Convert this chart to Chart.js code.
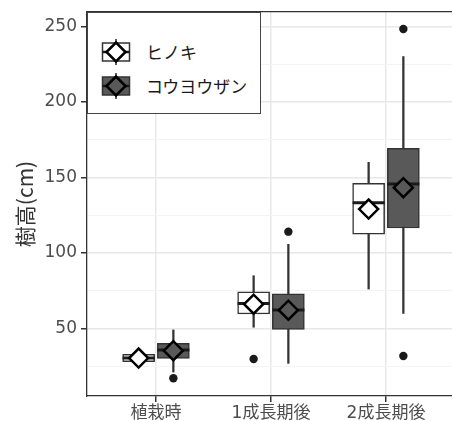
<!DOCTYPE html>
<html lang="ja">
<head>
<meta charset="UTF-8" />
<title>樹高の推移</title>
<script src="https://cdn.jsdelivr.net/npm/chart.js"></script>
<style>
  body { margin: 0; background: #fff; }
  #wrap { position: relative; width: 452px; height: 421px; }
  #legend {
    position: absolute; left: 87px; top: 12px; width: 174px; height: 102px;
    border: 1px solid #444; background: #fff; box-sizing: border-box;
    font-family: "Noto Sans CJK JP", sans-serif; font-size: 17px; color: #1a1a1a;
  }
  #legend canvas { position: absolute; left: 7px; }
  #legend span { position: absolute; left: 58px; line-height: 20px; white-space: nowrap; }
</style>
</head>
<body>
<div id="wrap">
  <canvas id="heightChart"></canvas>
  <div id="legend"></div>
</div>

<script>
  // categories (x) and species
  const categories = ['植栽時', '1成長期後', '2成長期後'];
  const species = ['ヒノキ', 'コウヨウザン'];

  // ヒノキ box stats (cm)
  const hinokiLow = [26.5, 50.7, 76.0];
  const hinokiQ1 = [27.9, 59.5, 112.3];
  const hinokiMedian = [30.3, 66.5, 133.2];
  const hinokiQ3 = [32.8, 74.2, 146.0];
  const hinokiHigh = [34.0, 84.8, 159.9];
  const hinokiMean = [30.3, 66.0, 129.0];
  const hinokiOutliers = [[], [29.7], []];

  // コウヨウザン box stats (cm)
  const kouyouLow = [21.0, 26.8, 59.9];
  const kouyouQ1 = [30.1, 49.3, 116.4];
  const kouyouMedian = [35.6, 62.1, 145.6];
  const kouyouQ3 = [40.1, 72.9, 169.2];
  const kouyouHigh = [48.9, 105.6, 229.9];
  const kouyouMean = [35.2, 62.0, 143.1];
  const kouyouOutliers = [[16.9], [114.0], [248.2, 31.7]];

  const yTicks = [50, 100, 150, 200, 250];

  const FONT = '"DejaVu Sans", "Noto Sans CJK JP", sans-serif';
  const DARK = '#595959';
  const dodge = 0.151;   // half distance between the two boxes (x units)

  function boxData(lo, hi, off) {
    return lo.map((v, i) => ({ x: i + 1 + off, y: [v, hi[i]] }));
  }
  function pointData(vals, off) {
    return vals.map((v, i) => ({ x: i + 1 + off, y: v }));
  }
  function outlierData(list, off) {
    const out = [];
    list.forEach((arr, i) => arr.forEach(v => out.push({ x: i + 1 + off, y: v })));
    return out;
  }

  const groups = [
    { low: hinokiLow, q1: hinokiQ1, med: hinokiMedian, q3: hinokiQ3, high: hinokiHigh,
      mean: hinokiMean, outl: hinokiOutliers, fill: '#ffffff', off: -dodge },
    { low: kouyouLow, q1: kouyouQ1, med: kouyouMedian, q3: kouyouQ3, high: kouyouHigh,
      mean: kouyouMean, outl: kouyouOutliers, fill: DARK, off: dodge }
  ];

  const datasets = [];
  groups.forEach((g, k) => {
    // whisker
    datasets.push({
      type: 'bar', label: species[k] + ' whisker', data: boxData(g.low, g.high, g.off),
      backgroundColor: '#333', barThickness: 1.6, grouped: false, order: 10
    });
    // box
    datasets.push({
      type: 'bar', label: species[k], data: boxData(g.q1, g.q3, g.off),
      backgroundColor: g.fill, borderColor: '#333', borderWidth: 1.5, borderSkipped: false,
      barThickness: 32, grouped: false, order: 8
    });
    // median
    datasets.push({
      type: 'scatter', label: species[k] + ' median', data: pointData(g.med, g.off),
      pointStyle: 'line', pointRadius: 16, borderWidth: 3, borderColor: '#1a1a1a', order: 6
    });
    // outliers
    datasets.push({
      type: 'scatter', label: species[k] + ' outlier', data: outlierData(g.outl, g.off),
      pointStyle: 'circle', pointRadius: 4.2, backgroundColor: '#1a1a1a', borderWidth: 0, order: 4
    });
    // mean
    datasets.push({
      type: 'scatter', label: species[k] + ' mean', data: pointData(g.mean, g.off),
      pointStyle: 'rectRot', pointRadius: 9.5, backgroundColor: g.fill,
      borderColor: '#000', borderWidth: 2.5, order: 2
    });
  });

  const isMajor = v => v % 50 === 0;
  const noPad = s => { s.paddingLeft = 0; s.paddingRight = 0; s.paddingTop = 0; s.paddingBottom = 0; };

  new Chart(document.getElementById('heightChart'), {
    type: 'bar',
    data: { datasets },
    options: {
      responsive: true,
      maintainAspectRatio: false,
      devicePixelRatio: 1,
      animation: false,
      layout: { autoPadding: false, padding: { top: 12, left: 0, right: 0, bottom: 0 } },
      plugins: { legend: { display: false }, tooltip: { enabled: false } },
      scales: {
        x: {
          type: 'linear', min: 0.4, max: 3.574, offset: false,
          afterBuildTicks: s => { s.ticks = categories.map((c, i) => ({ value: i + 1 })); },
          afterFit: s => { s.height = 25; noPad(s); },
          ticks: {
            callback: v => categories[v - 1], autoSkip: false, maxRotation: 0,
            font: { family: FONT, size: 17 }, color: '#4d4d4d', padding: 1
          },
          grid: { offset: false, color: '#e8e8e8', lineWidth: 1.5, tickLength: 6, tickColor: '#333' },
          border: { color: '#333', width: 1.3 }
        },
        x2: {
          type: 'linear', position: 'top', min: 0.4, max: 3.574,
          ticks: { display: false }, grid: { display: false },
          afterFit: s => { s.height = 0; noPad(s); },
          border: { color: '#333', width: 1.3 }
        },
        y: {
          min: 5.17, max: 259.47,
          afterBuildTicks: s => {
            const t = [];
            for (let v = 25; v <= 250; v += 25) t.push({ value: v });
            s.ticks = t;
          },
          afterFit: s => { s.width = 87; noPad(s); },
          ticks: {
            callback: v => (yTicks.includes(v) ? v : ''),
            font: { family: FONT, size: 17 }, color: '#4d4d4d', padding: 4
          },
          grid: {
            color: c => (isMajor(c.tick.value) ? '#e8e8e8' : '#f4f4f4'),
            lineWidth: c => (isMajor(c.tick.value) ? 1.5 : 1),
            tickLength: 6,
            tickColor: c => (isMajor(c.tick.value) ? '#333' : 'rgba(0,0,0,0)')
          },
          border: { color: '#333', width: 1.3 },
          title: {
            display: true, text: '樹高(cm)', color: '#333',
            font: { family: '"Noto Sans CJK JP", sans-serif', size: 21 }, padding: { top: 12, bottom: 0 }
          }
        }
      }
    }
  });

  // ggplot-style legend inside the panel
  const legend = document.getElementById('legend');
  const keyCentres = [38.7, 73.3];
  groups.forEach((g, k) => {
    const cv = document.createElement('canvas');
    cv.width = 42; cv.height = 32;
    cv.style.top = (keyCentres[k] - 16) + 'px';
    const c = cv.getContext('2d');
    const cx = 21, cy = 16;
    c.strokeStyle = '#333'; c.lineWidth = 1.6;
    c.beginPath(); c.moveTo(cx, cy - 13); c.lineTo(cx, cy + 13); c.stroke();
    c.fillStyle = g.fill; c.fillRect(cx - 13.5, cy - 9, 27, 18);
    c.lineWidth = 1.5; c.strokeRect(cx - 13.5, cy - 9, 27, 18);
    c.lineWidth = 2.5; c.strokeStyle = '#1a1a1a';
    c.beginPath(); c.moveTo(cx - 13.5, cy); c.lineTo(cx + 13.5, cy); c.stroke();
    c.beginPath();
    c.moveTo(cx - 9.5, cy); c.lineTo(cx, cy - 9.5); c.lineTo(cx + 9.5, cy); c.lineTo(cx, cy + 9.5);
    c.closePath();
    c.fillStyle = g.fill; c.fill();
    c.strokeStyle = '#000'; c.lineWidth = 2.5; c.stroke();
    legend.appendChild(cv);
    const sp = document.createElement('span');
    sp.textContent = species[k];
    sp.style.top = (keyCentres[k] - 10) + 'px';
    legend.appendChild(sp);
  });
</script>
</body>
</html>
